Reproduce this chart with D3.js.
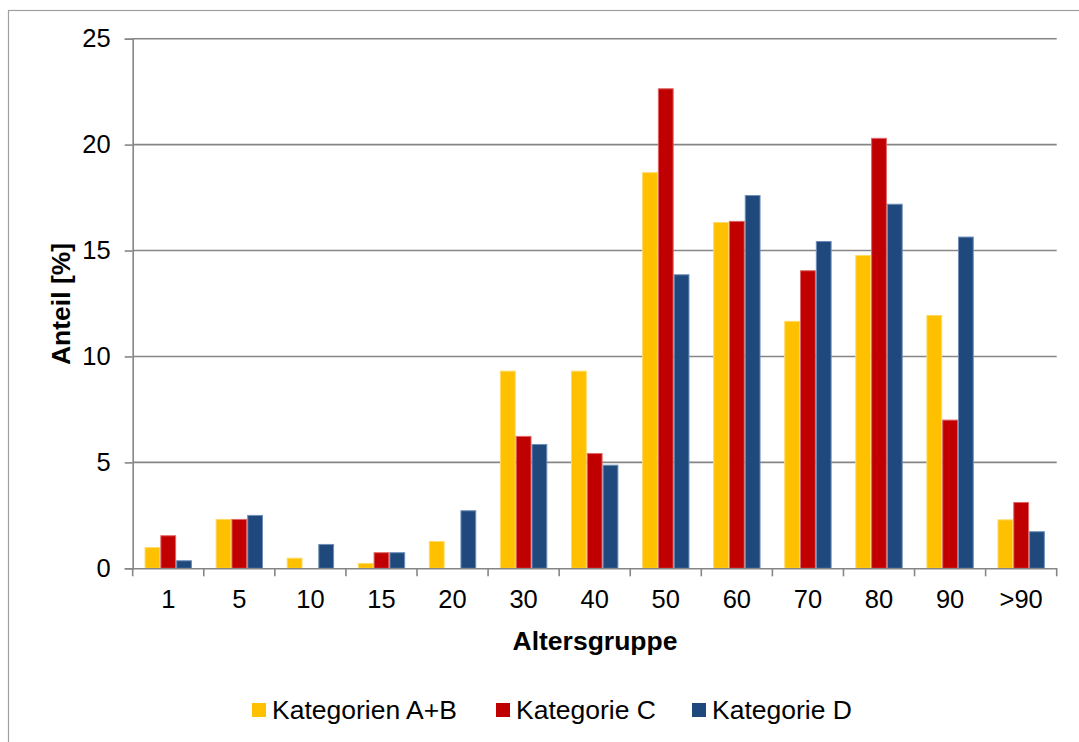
<!DOCTYPE html>
<html>
<head>
<meta charset="utf-8">
<script src="https://cdn.jsdelivr.net/npm/d3@7"></script>
<style>
  html, body { margin: 0; padding: 0; background: #fff; }
  svg { display: block; font-family: "Liberation Sans", Arial, sans-serif; }
</style>
</head>
<body>
<svg id="chart" width="1079" height="742"></svg>
<script>
const categories = ["1", "5", "10", "15", "20", "30", "40", "50", "60", "70", "80", "90", ">90"];
const seriesNames = ["Kategorien A+B", "Kategorie C", "Kategorie D"];
const valuesAB = [1.0, 2.33, 0.5, 0.25, 1.29, 9.33, 9.33, 18.7, 16.35, 11.68, 14.79, 11.96, 2.31];
const valuesC  = [1.56, 2.33, 0, 0.76, 0, 6.25, 5.44, 22.66, 16.4, 14.07, 20.32, 7.02, 3.13];
const valuesD  = [0.38, 2.52, 1.15, 0.76, 2.74, 5.87, 4.89, 13.88, 17.62, 15.45, 17.21, 15.66, 1.75];
const yTicks = [0, 5, 10, 15, 20, 25];
const colors = ["#FFC000", "#C00000", "#1F497D"];
const edgeColors = ["#FFD966", "#E06666", "#6F8FB8"];

const svg = d3.select("#chart");
const pLeft = 132.7, pRight = 1056.7, pTop = 38.7, pBottom = 568.3;

// outer chart border
svg.append("rect").attr("x", 8.5).attr("y", 10.5).attr("width", 1200).attr("height", 900)
  .attr("fill", "none").attr("stroke", "#A0A0A0").attr("stroke-width", 1.2);

const x = d3.scaleBand().domain(categories).range([pLeft, pRight]).padding(0);
const step = x.step();
const x1 = d3.scaleBand().domain(seriesNames).range([step / 6, step * 5 / 6]).padding(0);
const y = d3.scaleLinear().domain([0, 25]).range([pBottom, pTop]);

// gridlines
svg.append("g").selectAll("line").data(yTicks.filter(d => d > 0)).join("line")
  .attr("x1", pLeft).attr("x2", pRight)
  .attr("y1", d => y(d)).attr("y2", d => y(d))
  .attr("stroke", "#868686").attr("stroke-width", 1.6);

// y axis
const yAxis = svg.append("g").attr("transform", `translate(${pLeft},0)`)
  .call(d3.axisLeft(y).tickValues(yTicks).tickSize(8).tickPadding(14).tickFormat(d3.format("d")));
yAxis.select(".domain").attr("stroke", "#868686").attr("stroke-width", 1.6);
yAxis.selectAll(".tick line").attr("stroke", "#868686").attr("stroke-width", 1.6);
yAxis.selectAll(".tick text").attr("font-size", 25.5).attr("fill", "#000")
  .attr("font-family", "Liberation Sans, Arial, sans-serif");

// bars
const data = [valuesAB, valuesC, valuesD];
const groups = svg.append("g").selectAll("g").data(categories).join("g")
  .attr("transform", d => `translate(${x(d)},0)`);
groups.selectAll("rect").data((c, i) => seriesNames.map((s, k) => ({ s, k, v: data[k][i] })))
  .join("rect")
  .filter(d => d.v > 0)
  .attr("x", d => x1(d.s) + 0.5)
  .attr("width", x1.bandwidth() - 1)
  .attr("y", d => y(d.v) + 0.5)
  .attr("height", d => Math.max(0, pBottom - y(d.v) - 0.5))
  .attr("fill", d => colors[d.k])
  .attr("stroke", d => edgeColors[d.k])
  .attr("stroke-width", 1);

// x axis
const xAxis = svg.append("g").attr("transform", `translate(0,${pBottom})`)
  .call(d3.axisBottom(x).tickSize(0).tickPadding(22));
xAxis.select(".domain").attr("stroke", "#868686").attr("stroke-width", 1.6);
xAxis.selectAll(".tick text").attr("font-size", 25.5).attr("fill", "#000")
  .attr("font-family", "Liberation Sans, Arial, sans-serif");
// boundary tick marks
const boundaries = categories.map(c => x(c)).concat([pRight]);
svg.append("g").selectAll("line").data(boundaries).join("line")
  .attr("x1", d => d).attr("x2", d => d)
  .attr("y1", pBottom).attr("y2", pBottom + 8)
  .attr("stroke", "#868686").attr("stroke-width", 1.6);

// axis titles
svg.append("text").attr("x", 595).attr("y", 650)
  .attr("text-anchor", "middle").attr("font-size", 26.5).attr("font-weight", "bold")
  .text("Altersgruppe");
svg.append("text").attr("transform", `translate(70,304) rotate(-90)`)
  .attr("text-anchor", "middle").attr("font-size", 26.5).attr("font-weight", "bold")
  .text("Anteil [%]");

// legend
const legendX = [252, 496, 692];
const lg = svg.append("g").selectAll("g").data(seriesNames).join("g")
  .attr("transform", (d, i) => `translate(${legendX[i]},0)`);
lg.append("rect").attr("x", 0).attr("y", 703).attr("width", 14).attr("height", 14)
  .attr("fill", (d, i) => colors[i]);
lg.append("text").attr("x", 20).attr("y", 719).attr("font-size", 26.5).attr("fill", "#000")
  .text(d => d);
</script>
</body>
</html>
